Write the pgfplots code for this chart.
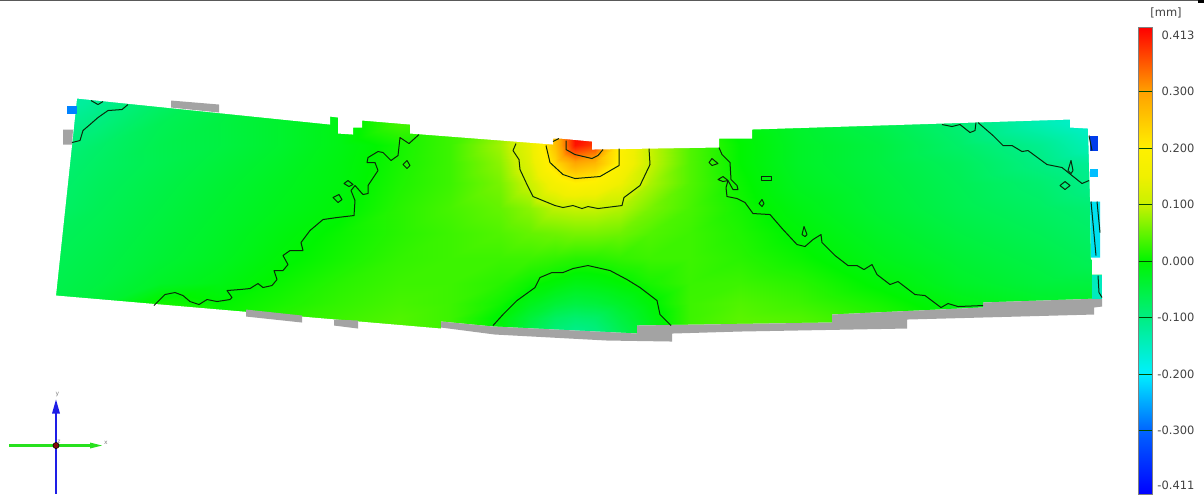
\documentclass[border=0pt]{standalone}
\usepackage{fontspec}
\setmainfont{DejaVu Sans}
\usepackage{pgfplots}
\pgfplotsset{compat=1.18}
\pgfplotsset{
  colormap={gom}{
    rgb255(-413pt)=(0,0,255);
    rgb255(-300pt)=(0,100,255);
    rgb255(-200pt)=(0,240,255);
    rgb255(-100pt)=(0,238,130);
    rgb255(0pt)=(0,245,0);
    rgb255(100pt)=(200,242,0);
    rgb255(150pt)=(240,240,0);
    rgb255(200pt)=(255,240,0);
    rgb255(300pt)=(255,160,0);
    rgb255(413pt)=(255,0,0);
  },
  pagegeom/.style={
    scale only axis, width=903pt, height=372.75pt,
    xmin=0, xmax=1204, ymin=0, ymax=497, y dir=reverse,
    clip=true, axis line style={draw=none}, ticks=none, hide axis,
  },
  ct/.style={draw=contourc, line width=0.75pt, line join=round, mark=none},
}
\definecolor{contourc}{RGB}{10,40,10}
\definecolor{grayband}{RGB}{163,163,163}
\definecolor{triadb}{RGB}{30,30,230}
\definecolor{triadg}{RGB}{40,225,30}
\definecolor{triadr}{RGB}{130,10,10}
\begin{document}
\begin{tikzpicture}
\begin{axis}[pagegeom, view={0}{90}, colormap name=gom,
  point meta min=-0.413, point meta max=0.413,
  colorbar,
  colorbar style={
    hide axis=false, scale only axis, width=10.5pt, height=350.25pt,
    at={(845.25pt,350.25pt)}, anchor=north west,
    ymin=-0.413, ymax=0.413,
    ytick={-0.3,-0.2,-0.1,0,0.1,0.2,0.3},
    yticklabels={-0.300,-0.200,-0.100,0.000,0.100,0.200,0.300},
    extra y ticks={-0.397,0.4},
    extra y tick labels={-0.411,0.413},
    extra y tick style={major tick length=0pt, tick style={draw=none}},
    tick align=inside, major tick length=10.5pt,
    tick style={draw=black!70!green, line width=0.6pt},
    ytick pos=left, yticklabel pos=right,
    axis line style={draw=black!50, line width=0.5pt},
    yticklabel style={font=\fontsize{8.6}{10}\selectfont, text=black!75,
      text width=30pt, align=right, anchor=west, xshift=-2pt},
  },
]
\addplot3[surf, shader=interp, mesh/cols=22, mesh/ordering=x varies, point meta=z] coordinates {
(50,95,-.13)(100,95,-.12)(160,95,-.085)(220,95,-.06)(280,95,-.04)(340,95,-.02)(400,95,.02)(450,95,.02)(500,95,.04)(530,95,.08)(555,95,.2)(575,95,.38)(595,95,.38)(620,95,.15)(650,95,.08)(690,95,.03)(740,95,-.01)(800,95,-.04)(880,95,-.06)(960,95,-.09)(1040,95,-.14)(1105,95,-.16)
(50,125,-.12)(100,125,-.095)(160,125,-.065)(220,125,-.05)(280,125,-.035)(340,125,-.015)(400,125,.035)(450,125,.03)(500,125,.06)(530,125,.12)(555,125,.28)(575,125,.42)(595,125,.42)(620,125,.2)(650,125,.10)(690,125,.04)(740,125,-.01)(800,125,-.035)(880,125,-.06)(960,125,-.09)(1040,125,-.14)(1105,125,-.17)
(50,147,-.10)(100,147,-.08)(160,147,-.06)(220,147,-.05)(280,147,-.035)(340,147,-.015)(400,147,.01)(450,147,.03)(500,147,.08)(530,147,.14)(555,147,.26)(575,147,.40)(595,147,.37)(620,147,.2)(650,147,.10)(690,147,.04)(740,147,0)(800,147,-.03)(880,147,-.05)(960,147,-.08)(1040,147,-.11)(1105,147,-.15)
(50,165,-.09)(100,165,-.075)(160,165,-.06)(220,165,-.045)(280,165,-.03)(340,165,-.012)(400,165,.012)(450,165,.03)(500,165,.07)(530,165,.13)(555,165,.23)(575,165,.29)(595,165,.27)(620,165,.19)(650,165,.10)(690,165,.04)(740,165,0)(800,165,-.03)(880,165,-.05)(960,165,-.07)(1040,165,-.10)(1105,165,-.12)
(50,185,-.085)(100,185,-.07)(160,185,-.055)(220,185,-.04)(280,185,-.025)(340,185,-.01)(400,185,.015)(450,185,.03)(500,185,.06)(530,185,.105)(555,185,.17)(575,185,.2)(595,185,.19)(620,185,.15)(650,185,.085)(690,185,.04)(740,185,.005)(800,185,-.025)(880,185,-.045)(960,185,-.065)(1040,185,-.085)(1105,185,-.11)
(50,210,-.08)(100,210,-.065)(160,210,-.05)(220,210,-.035)(280,210,-.02)(340,210,-.005)(400,210,.02)(450,210,.035)(500,210,.05)(530,210,.07)(555,210,.095)(575,210,.10)(595,210,.10)(620,210,.09)(650,210,.06)(690,210,.035)(740,210,.01)(800,210,-.015)(880,210,-.04)(960,210,-.06)(1040,210,-.075)(1105,210,-.09)
(50,235,-.07)(100,235,-.06)(160,235,-.045)(220,235,-.03)(280,235,-.012)(340,235,.005)(400,235,.02)(450,235,.03)(500,235,.04)(530,235,.05)(555,235,.055)(575,235,.06)(595,235,.06)(620,235,.055)(650,235,.04)(690,235,.03)(740,235,.015)(800,235,-.005)(880,235,-.03)(960,235,-.05)(1040,235,-.065)(1105,235,-.08)
(50,260,-.065)(100,260,-.055)(160,260,-.04)(220,260,-.025)(280,260,-.005)(340,260,.01)(400,260,.025)(450,260,.03)(500,260,.03)(530,260,.03)(555,260,.025)(575,260,.02)(595,260,.02)(620,260,.025)(650,260,.03)(690,260,.03)(740,260,.02)(800,260,.005)(880,260,-.02)(960,260,-.04)(1040,260,-.055)(1105,260,-.07)
(50,285,-.06)(100,285,-.05)(160,285,-.03)(220,285,-.015)(280,285,.005)(340,285,.02)(400,285,.03)(450,285,.03)(500,285,.02)(530,285,.005)(555,285,-.005)(575,285,-.015)(595,285,-.012)(620,285,-.002)(650,285,.012)(690,285,.028)(740,285,.03)(800,285,.02)(880,285,-.005)(960,285,-.03)(1040,285,-.045)(1105,285,-.05)
(50,305,-.055)(100,305,-.04)(160,305,.01)(220,305,0)(280,305,.012)(340,305,.025)(400,305,.035)(450,305,.03)(500,305,.008)(530,305,-.02)(555,305,-.04)(575,305,-.05)(595,305,-.045)(620,305,-.03)(650,305,-.005)(690,305,.03)(740,305,.04)(800,305,.03)(880,305,.01)(960,305,-.015)(1040,305,-.03)(1105,305,-.03)
(50,320,-.05)(100,320,-.03)(160,320,.04)(220,320,.005)(280,320,.02)(340,320,.03)(400,320,.04)(450,320,.03)(500,320,-.005)(530,320,-.045)(555,320,-.075)(575,320,-.085)(595,320,-.08)(620,320,-.05)(650,320,-.015)(690,320,.03)(740,320,.045)(800,320,.04)(880,320,.02)(960,320,-.01)(1040,320,-.02)(1105,320,-.02)
(50,335,-.05)(100,335,-.03)(160,335,.04)(220,335,.01)(280,335,.025)(340,335,.035)(400,335,.04)(450,335,.03)(500,335,-.01)(530,335,-.06)(555,335,-.095)(575,335,-.11)(595,335,-.10)(620,335,-.065)(650,335,-.02)(690,335,.03)(740,335,.045)(800,335,.04)(880,335,.02)(960,335,-.01)(1040,335,-.02)(1105,335,-.02)
(50,345,-.05)(100,345,-.03)(160,345,.04)(220,345,.01)(280,345,.025)(340,345,.035)(400,345,.04)(450,345,.03)(500,345,-.01)(530,345,-.06)(555,345,-.095)(575,345,-.11)(595,345,-.10)(620,345,-.065)(650,345,-.02)(690,345,.03)(740,345,.045)(800,345,.04)(880,345,.02)(960,345,-.01)(1040,345,-.02)(1105,345,-.02)
};
\end{axis}
\begin{axis}[pagegeom]
% white mask outside the measured surface
\addplot[fill=white, draw=none, even odd rule] coordinates {
(40,85)(1115,85)(1115,355)(40,355)(40,85)
(77,101)(330,127)(330,119)(338,120)(338,136)(353,137)(353,130)(362,130)(362,123)(410,127)(410,136)
(553,147)(553,141)(560,141)(592,144)(592,152)(719,150)(719,141)(752,141)(752,132)(1070,122)(1070,130)(1088,131)
(1090,200)(1091,262)(1092,262)(1092,277)(1102,277)(1102,301)(983,305)(983,310)(832,317)(832,325)(637,328)(637,336)
(493,329)(441,324)(441,331)(56,298)(77,101)(40,85)
} --cycle;
% grey areas
\addplot[fill=grayband, draw=none] coordinates {(171,103)(219,107)(219,115)(171,110)} --cycle;
\addplot[fill=grayband, draw=none] coordinates {(63,132)(73,132)(72,147)(63,147)} --cycle;
\addplot[fill=grayband, draw=none] coordinates {(246,312)(302,318)(302,325)(246,319)} --cycle;
\addplot[fill=grayband, draw=none] coordinates {(334,322)(358,323)(358,331)(334,328)} --cycle;
\addplot[fill=grayband, draw=none] coordinates {(441,324)(493,329)(637,336)(637,328)(832,325)(832,317)(983,310)(983,305)(1102,301)(1102,309)(1094,310)(1094,317)(907,322)(907,331)(740,334)(672,336)(672,344)(607,343)(495,337)(441,330)} --cycle;
% coloured tabs
\addplot[fill={rgb,255:red,0;green,130;blue,255}, draw=none] coordinates {(67,108)(77,108)(77,116)(67,116)} --cycle;
\addplot[fill={rgb,255:red,0;green,60;blue,235}, draw=none] coordinates {(1090,138)(1098,138)(1098,153)(1090,153)} --cycle;
\addplot[fill={rgb,255:red,0;green,190;blue,255}, draw=none] coordinates {(1090,171)(1098,171)(1098,179)(1090,179)} --cycle;
\addplot[fill={rgb,255:red,0;green,225;blue,240}, draw=none] coordinates {(1090,204)(1100,204)(1100,260)(1091,260)} --cycle;
\addplot[fill={rgb,255:red,0;green,235;blue,190}, draw=none] coordinates {(1092,277)(1102,277)(1102,301)(1092,301)} --cycle;
% contour lines
\addplot[ct] coordinates {(72,145)(80,143)(83,133)(90,127)(98,120)(108,113)(122,112)(128,107)};
\addplot[ct] coordinates {(91,103)(98,107)(103,104)};
\addplot[ct] coordinates {(154,308)(165,297)(175,295)(183,298)(190,304)(199,307)(207,302)(217,304)(230,302)(232,300)(227,293)(240,292)(250,291)(258,286)(263,290)(272,288)(277,282)(274,273)(283,273)(288,267)(283,258)(290,253)(303,253)(301,245)(310,233)(323,222)(337,220)(354,218)(355,203)(351,193)(355,188)(363,197)(368,196)(368,188)(378,173)(375,165)(367,165)(368,160)(378,154)(383,155)(391,163)(398,158)(400,140)(409,146)(419,137)};
\addplot[ct] coordinates {(333,200)(339,197)(342,202)(338,205)} --cycle;
\addplot[ct] coordinates {(344,186)(348,183)(353,187)(349,189)} --cycle;
\addplot[ct] coordinates {(403,167)(407,163)(410,168)(407,171)} --cycle;
\addplot[ct] coordinates {(516,146)(513,153)(519,162)(520,172)(527,187)(533,199)(555,208)(563,210)(573,208)(582,211)(588,209)(598,211)(622,208)(624,200)(640,188)(650,167)(649,151)};
\addplot[ct] coordinates {(546,148)(550,165)(563,177)(575,181)(600,179)(619,168)(619,151)};
\addplot[ct] coordinates {(553,144)(559,141)};
\addplot[ct] coordinates {(566,143)(566,152)(575,157)(592,161)(598,158)(603,152)};
\addplot[ct] coordinates {(493,328)(503,317)(517,303)(535,290)(540,280)(552,275)(563,275)(573,271)(588,268)(610,273)(627,282)(640,290)(657,303)(660,317)(671,328)};
\addplot[ct] coordinates {(719,150)(722,157)(730,165)(731,182)(737,188)(738,192)(733,192)(728,183)(723,179)(718,182)(723,184)(728,183)(726,190)(727,199)(737,201)(745,205)(753,216)(770,217)(783,232)(797,247)(805,249)(813,242)(821,237)(822,245)(835,258)(848,268)(857,268)(864,272)(872,267)(877,277)(890,287)(898,284)(915,297)(925,298)(941,310)(948,306)(958,309)(983,308)};
\addplot[ct] coordinates {(709,165)(712,161)(718,166)(712,168)} --cycle;
\addplot[ct] coordinates {(761,179)(771,179)(771,183)(761,183)} --cycle;
\addplot[ct] coordinates {(762,202)(764,206)(762,209)(759,206)} --cycle;
\addplot[ct] coordinates {(804,229)(807,237)(805,239)(802,237)} --cycle;
\addplot[ct] coordinates {(942,127)(952,129)(960,127)(970,135)(975,133)(976,125)};
\addplot[ct] coordinates {(978,125)(993,138)(1003,148)(1012,148)(1022,154)(1028,153)(1047,167)(1062,170)(1082,186)(1089,183)};
\addplot[ct] coordinates {(1071,163)(1073,173)(1071,176)(1068,173)} --cycle;
\addplot[ct] coordinates {(1060,188)(1065,184)(1070,188)(1065,192)} --cycle;
\addplot[ct] coordinates {(1089,138)(1092,153)};
\addplot[ct] coordinates {(1091,204)(1096,258)};
\addplot[ct] coordinates {(1097,204)(1100,235)};
\addplot[ct] coordinates {(1098,278)(1099,295)(1102,300)};
% top rule
\addplot[draw=black!65, line width=0.8pt] coordinates {(0,3)(1198,3)};
\addplot[draw=black, line width=1.6pt] coordinates {(1198,4)(1204,4)};
% coordinate triad
\addplot[draw=triadb, line width=1.5pt, mark=none] coordinates {(56,412)(56,496)};
\addplot[fill=triadb, draw=none] coordinates {(56,402)(60,416)(52,416)} --cycle;
\addplot[draw=triadg, line width=1.9pt, mark=none] coordinates {(9,448)(92,448)};
\addplot[fill=triadg, draw=none] coordinates {(102,448)(90,445)(90,451)} --cycle;
\addplot[only marks, mark=*, mark size=2.3pt, mark options={fill=triadr, draw=none}] coordinates {(56,448)};
\node[font=\fontsize{4.5}{5}\selectfont, text=black!50] at (axis cs:57.5,397) {y};
\node[font=\fontsize{4.5}{5}\selectfont, text=black!50] at (axis cs:106,445.5) {x};
\node[font=\fontsize{4.5}{5}\selectfont, text=black!50] at (axis cs:59,444) {z};
\node[font=\fontsize{8.6}{10}\selectfont, text=black!75] at (axis cs:1166,15) {[mm]};
\end{axis}
\end{tikzpicture}
\end{document}
